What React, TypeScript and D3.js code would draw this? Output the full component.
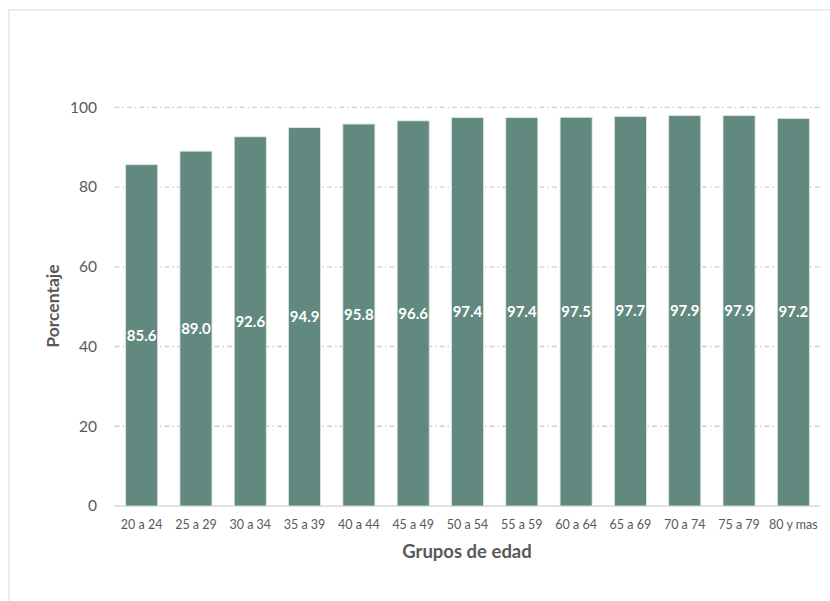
import React from "react";
import * as d3 from "d3";

const categories = ["20 a 24","25 a 29","30 a 34","35 a 39","40 a 44","45 a 49","50 a 54","55 a 59","60 a 64","65 a 69","70 a 74","75 a 79","80 y mas"];
const values = [85.6, 89.0, 92.6, 94.9, 95.8, 96.6, 97.4, 97.4, 97.5, 97.7, 97.9, 97.9, 97.2];
const yTicks = [0, 20, 40, 60, 80, 100];

export default function App() {
  const W = 830, H = 601;
  const left = 114.5, right = 820.5, top = 107.3, bottom = 506;
  const x = d3.scaleBand<string>().domain(categories).range([left, right]).paddingInner(0.41).paddingOuter(0.205);
  const y = d3.scaleLinear().domain([0, 100]).range([bottom, top]);
  const font = "Lato, 'Open Sans', sans-serif";
  return (
    <div style={{ position: "absolute", left: 0, top: 0 }}>
      <svg width={W} height={H} style={{ display: "block" }}>
        <rect x={0} y={0} width={W} height={H} fill="#fff" />
        <rect x={9} y={10} width={W} height={H} fill="none" stroke="#ececec" strokeWidth={2} />
        {yTicks.filter(t => t > 0).map(t => (
          <line key={t} x1={left} x2={right} y1={y(t)} y2={y(t)} stroke="#cfcfcf" strokeWidth={1.3} strokeDasharray="5,3,1.5,3" />
        ))}
        <line x1={left} x2={right} y1={y(0)} y2={y(0)} stroke="#d9d9d9" strokeWidth={1.5} />
        {yTicks.map(t => (
          <text key={t} x={97} y={y(t)} dy="0.35em" textAnchor="end" fontFamily={font} fontSize={15.5} fill="#595959">{t}</text>
        ))}
        {categories.map((c, i) => (
          <g key={c}>
            <rect x={x(c)} y={y(values[i])} width={x.bandwidth()} height={y(0) - y(values[i])} fill="#62897f" stroke="#dfe7e4" strokeWidth={0.8} />
            <text x={(x(c) as number) + x.bandwidth() / 2} y={(y(values[i]) + y(0)) / 2} dy="0.35em" textAnchor="middle" fontFamily={font} fontWeight={700} fontSize={15} fill="#ffffff">{values[i].toFixed(1)}</text>
            <text x={(x(c) as number) + x.bandwidth() / 2} y={525} dy="0.35em" textAnchor="middle" fontFamily={font} fontSize={12.5} fill="#595959">{c}</text>
          </g>
        ))}
        <text x={467} y={552} dy="0.35em" textAnchor="middle" fontFamily={font} fontWeight={700} fontSize={18.5} fill="#595959">Grupos de edad</text>
        <text transform={`translate(53,306) rotate(-90)`} dy="0.35em" textAnchor="middle" fontFamily={font} fontWeight={700} fontSize={17.5} fill="#595959">Porcentaje</text>
      </svg>
    </div>
  );
}
